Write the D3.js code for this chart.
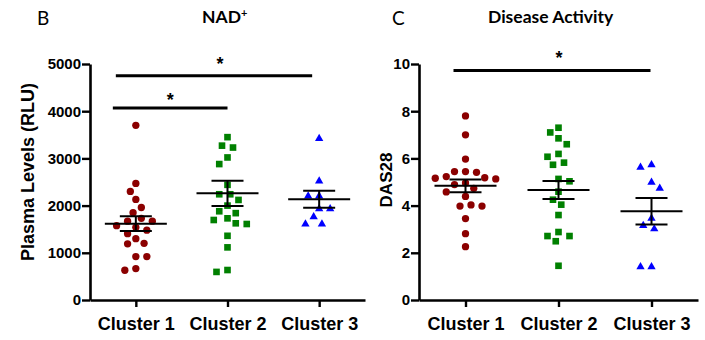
<!DOCTYPE html>
<html>
<head>
<meta charset="utf-8">
<script src="https://cdn.jsdelivr.net/npm/d3@7"></script>
<style>
  body { margin: 0; background: #fff; }
  svg text { font-family: "Liberation Sans", Arial, sans-serif; }
</style>
</head>
<body>
<svg id="chart" width="705" height="340"></svg>
<script>
let clusters = ['Cluster 1', 'Cluster 2', 'Cluster 3'];

// NAD+ plasma levels (RLU)
let nadC1 = [3700, 2470, 2300, 2130, 1960, 1850, 1730, 1670, 1670, 1575, 1540, 1480, 1405, 1300, 1200, 1190, 920, 920, 665, 630];
let nadC2 = [3450, 3270, 3230, 3020, 2880, 2440, 2240, 2240, 2120, 2000, 1880, 1840, 1730, 1695, 1625, 1610, 1360, 1115, 635, 595];
let nadC3 = [3420, 2520, 2200, 2200, 1930, 1930, 1760, 1610, 1610];
let nadMean = [1617, 2260, 2133];
let nadSem = [155, 268, 180];
let nadTicks = [0, 1000, 2000, 3000, 4000, 5000];

// DAS28 scores
let dasC1 = [7.8, 7.0, 5.97, 5.44, 5.41, 5.44, 5.23, 5.13, 5.16, 5.18, 4.89, 4.96, 4.73, 4.58, 4.39, 3.98, 3.98, 4.03, 3.45, 2.81, 2.26];
let dasC2 = [7.3, 7.1, 6.85, 6.6, 6.19, 6.07, 5.82, 5.73, 5.13, 5.03, 4.59, 4.25, 4.04, 3.6, 2.88, 2.71, 2.71, 2.49, 1.45];
let dasC3 = [5.62, 5.73, 4.99, 4.73, 3.46, 3.15, 3.01, 1.41, 1.41];
let dasMean = [4.84, 4.66, 3.76];
let dasSem = [0.27, 0.38, 0.56];
let dasTicks = [0, 2, 4, 6, 8, 10];

// significance brackets: [from, to] cluster index and height in data units
let nadSig = [[0, 2, 4750], [0, 1, 4070]];
let dasSig = [[0, 2, 9.72]];

let colors = ['#8b0000', '#008000', '#0000ff'];
let shapes = [d3.symbolCircle, d3.symbolSquare, d3.symbolTriangle];
let shapeSize = [42, 44, 30];

let svg = d3.select('#chart');
svg.append('rect').attr('width', 705).attr('height', 340).attr('fill', '#fff');

// simple beeswarm: nudge points sideways until they stop overlapping
function swarm(values, y, cx, step, gap) {
  let placed = [];
  let sorted = values.slice().sort((a, b) => b - a);
  sorted.forEach(v => {
    let py = y(v);
    for (let k = 0; k < 40; k++) {
      let left = placed.filter(p => p.x < cx).length;
      let right = placed.filter(p => p.x > cx).length;
      let tries = k === 0 ? [0] : (left <= right ? [-k * step, k * step] : [k * step, -k * step]);
      let dx = tries.find(d => placed.every(p => (p.x - cx - d) ** 2 + (p.y - py) ** 2 >= gap * gap));
      if (dx !== undefined) {
        placed.push({v: v, x: cx + dx, y: py});
        break;
      }
    }
  });
  return placed;
}

function panel(opt) {
  let g = svg.append('g');

  let x = d3.scalePoint().domain(clusters).range([opt.x0, opt.x1]).padding(0.5);
  let y = d3.scaleLinear().domain([0, opt.max]).range([300, 64]);

  // points
  opt.groups.forEach((vals, i) => {
    let pts = swarm(vals, y, x(clusters[i]), 2.75, 9.5);
    g.selectAll('.pt' + i)
      .data(pts)
      .enter().append('path')
      .attr('transform', d => 'translate(' + d.x + ',' + d.y + ')')
      .attr('d', d3.symbol().type(shapes[i]).size(shapeSize[i]))
      .attr('fill', colors[i]);
  });

  // mean +/- SEM
  clusters.forEach((c, i) => {
    let cx = x(c);
    let m = opt.mean[i], s = opt.sem[i];
    let eb = g.append('g').attr('stroke', '#000').attr('stroke-width', 2).attr('fill', 'none');
    eb.append('line').attr('x1', cx - 31).attr('x2', cx + 31).attr('y1', y(m)).attr('y2', y(m));
    eb.append('line').attr('x1', cx).attr('x2', cx).attr('y1', y(m + s)).attr('y2', y(m - s));
    eb.append('line').attr('x1', cx - 16).attr('x2', cx + 16).attr('y1', y(m + s)).attr('y2', y(m + s));
    eb.append('line').attr('x1', cx - 16).attr('x2', cx + 16).attr('y1', y(m - s)).attr('y2', y(m - s));
  });

  // axes
  let yAxis = d3.axisLeft(y).tickValues(opt.ticks).tickFormat(d3.format('d'))
    .tickSize(8).tickSizeOuter(0).tickPadding(1);
  let ya = g.append('g').attr('transform', 'translate(' + opt.x0 + ',0)').call(yAxis);
  let xAxis = d3.axisBottom(x).tickSize(7).tickSizeOuter(0).tickPadding(10);
  let xa = g.append('g').attr('transform', 'translate(0,300)').call(xAxis);

  [ya, xa].forEach(a => {
    a.select('.domain').attr('stroke', '#000').attr('stroke-width', 2.6);
    a.selectAll('.tick line').attr('stroke', '#000').attr('stroke-width', 2.4);
    a.selectAll('text').attr('fill', '#000').attr('font-weight', 'bold')
      .attr('font-family', '"Liberation Sans", Arial, sans-serif');
  });
  ya.selectAll('text').attr('font-size', 15);
  xa.selectAll('text').attr('font-size', 18);

  g.append('text')
    .attr('transform', 'translate(' + opt.labelX + ',' + opt.labelY + ') rotate(-90)')
    .attr('text-anchor', 'middle')
    .attr('font-size', opt.labelSize)
    .attr('font-weight', 'bold')
    .text(opt.label);

  // significance brackets
  opt.sig.forEach((s, i) => {
    let x1 = x(clusters[s[0]]) + opt.sigPad[i][0];
    let x2 = x(clusters[s[1]]) + opt.sigPad[i][1];
    g.append('line')
      .attr('x1', x1).attr('x2', x2)
      .attr('y1', y(s[2])).attr('y2', y(s[2]))
      .attr('stroke', '#000').attr('stroke-width', 3);
    g.append('text')
      .attr('x', (x1 + x2) / 2 + opt.starShift[i][0])
      .attr('y', y(s[2]) + opt.starShift[i][1])
      .attr('text-anchor', 'middle')
      .attr('font-size', 18)
      .attr('font-weight', 'bold')
      .text('*');
  });

  // panel letter and title
  svg.append('text')
    .attr('x', opt.letterX).attr('y', 25)
    .attr('font-size', 19)
    .style('font-family', 'Lato, "Open Sans", sans-serif')
    .text(opt.letter);
  let t = svg.append('text')
    .attr('x', opt.titleX).attr('y', 23)
    .attr('font-size', 17.5)
    .attr('font-weight', 'bold')
    .style('font-family', 'Lato, "Open Sans", sans-serif');
  t.append('tspan').text(opt.title);
  if (opt.sup) {
    t.append('tspan').attr('font-size', 11).attr('dy', -6).text(opt.sup);
  }
}

panel({
  x0: 90, x1: 365, max: 5000, ticks: nadTicks,
  groups: [nadC1, nadC2, nadC3], mean: nadMean, sem: nadSem,
  label: 'Plasma Levels (RLU)', labelX: 34, labelY: 172, labelSize: 18,
  sig: nadSig, sigPad: [[-20, -7], [-23, 0]], starShift: [[6, -6], [0, -1.5]],
  letter: 'B', letterX: 37, title: 'NAD', sup: '+', titleX: 202
});

panel({
  x0: 419, x1: 698, max: 10, ticks: dasTicks,
  groups: [dasC1, dasC2, dasC3], mean: dasMean, sem: dasSem,
  label: 'DAS28', labelX: 392, labelY: 180, labelSize: 17,
  sig: dasSig, sigPad: [[-12, -1]], starShift: [[7, -7]],
  letter: 'C', letterX: 392, title: 'Disease Activity', sup: null, titleX: 488
});
</script>
</body>
</html>
